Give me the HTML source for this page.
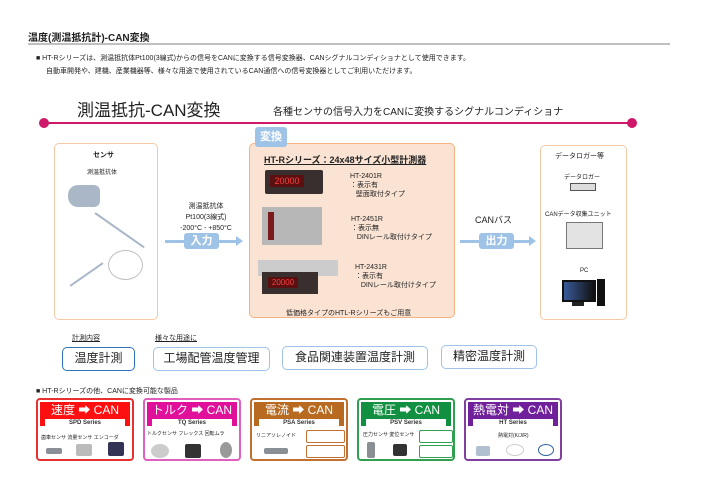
<!DOCTYPE html>
<html><head><meta charset="utf-8"><style>
*{margin:0;padding:0;box-sizing:border-box}
body{width:701px;height:496px;background:#fff;position:relative;overflow:hidden;font-family:"Liberation Sans","Noto Sans CJK JP",sans-serif;color:#222}
.a{position:absolute}
.t7{font-size:7px;white-space:nowrap}
.box{position:absolute;border:1px solid #f6c9a5;border-radius:5px;background:#fff}
.lab{position:absolute;background:#9ec3e6;color:#fff;font-weight:bold;border-radius:3px;text-align:center}
.pill{position:absolute;border:1.5px solid #9ec3e6;border-radius:5px;font-size:12px;text-align:center;line-height:21px;background:#fff}
.card{position:absolute;top:398px;width:98px;height:63px;border:2px solid;border-radius:4px;background:#fff}
.card .h{position:absolute;left:2px;top:2px;right:2px;height:24px;color:#fff;font-size:12px;text-align:center;line-height:17px;white-space:nowrap}
.card .s{position:absolute;left:5px;right:5px;top:17px;height:8px;background:#fff;color:#333;font-size:6px;font-weight:bold;line-height:8px;text-align:center}
.g{position:absolute;background:#8a8f96;border-radius:2px}
</style></head><body>
<div class="a" style="left:28px;top:29px;font-size:10px;font-weight:bold">温度(測温抵抗計)-CAN変換</div>
<div class="a" style="left:28px;top:43px;width:642px;height:2px;background:#c0c0c0"></div>
<div class="a t7" style="left:36px;top:53px">■ HT-Rシリーズは、測温抵抗体Pt100(3線式)からの信号をCANに変換する信号変換器、CANシグナルコンディショナとして使用できます。</div>
<div class="a t7" style="left:46px;top:66px">自動車開発や、建機、産業機器等、様々な用途で使用されているCAN通信への信号変換器としてご利用いただけます。</div>
<div class="a" style="left:77px;top:96px;font-size:17px;white-space:nowrap">測温抵抗-CAN変換</div>
<div class="a" style="left:273px;top:103px;font-size:10px;white-space:nowrap">各種センサの信号入力をCANに変換するシグナルコンディショナ</div>
<div class="a" style="left:48px;top:122px;width:584px;height:2px;background:#d0186b"></div>
<div class="a" style="left:39px;top:118px;width:10px;height:10px;border-radius:50%;background:#d0186b"></div>
<div class="a" style="left:627px;top:118px;width:10px;height:10px;border-radius:50%;background:#d0186b"></div>

<div class="box" style="left:54px;top:143px;width:104px;height:177px"></div>
<div class="a t7" style="left:93px;top:150px;font-weight:bold">センサ</div>
<div class="a t7" style="left:87px;top:167px;font-size:6px">測温抵抗体</div>
<div class="a" style="left:68px;top:185px;width:32px;height:22px;background:#a9b7c7;border-radius:10px 6px 6px 10px"></div>
<div class="a" style="left:95px;top:212px;width:60px;height:2px;background:#a9b7c7;transform:rotate(35deg);transform-origin:left"></div>
<div class="a" style="left:70px;top:285px;width:40px;height:1.5px;background:#a9b7c7;transform:rotate(-35deg);transform-origin:left"></div>
<div class="a" style="left:108px;top:250px;width:35px;height:30px;border:1.5px solid #c0c0c0;border-radius:50%"></div>

<div class="a t7" style="left:170px;top:201px;width:72px;text-align:center;line-height:11px">測温抵抗体<br>Pt100(3線式)<br>-200°C - +850°C</div>
<div class="a" style="left:165px;top:240px;width:72px;height:3px;background:#9ec3e6"></div>
<div class="a" style="left:236px;top:236px;border-left:7px solid #9ec3e6;border-top:5px solid transparent;border-bottom:5px solid transparent"></div>
<div class="lab" style="left:184px;top:233px;width:35px;height:16px;font-size:11px;line-height:16px">入力</div>

<div class="box" style="left:249px;top:143px;width:206px;height:175px;background:#fbe3d3;border-color:#f4b183"></div>
<div class="lab" style="left:255px;top:127px;width:32px;height:20px;font-size:11px;line-height:20px">変換</div>
<div class="a" style="left:264px;top:153px;font-size:9px;font-weight:bold;text-decoration:underline;white-space:nowrap">HT-Rシリーズ：24x48サイズ小型計測器</div>
<div class="a" style="left:265px;top:170px;width:58px;height:24px;background:#3a2f2f;border-radius:2px"></div>
<div class="a" style="left:270px;top:175px;width:34px;height:12px;background:#5a1010;color:#ff4040;font-size:9px;line-height:12px;text-align:center">20000</div>
<div class="a t7" style="left:350px;top:172px;line-height:9px">HT-2401R<br>：表示有<br>&nbsp;&nbsp;&nbsp;壁面取付タイプ</div>
<div class="a" style="left:262px;top:207px;width:60px;height:38px;background:#b7b7b7"></div>
<div class="a" style="left:268px;top:212px;width:6px;height:28px;background:#7a1a1a"></div>
<div class="a t7" style="left:351px;top:215px;line-height:9px">HT-2451R<br>：表示無<br>&nbsp;&nbsp;&nbsp;DINレール取付けタイプ</div>
<div class="a" style="left:258px;top:260px;width:80px;height:16px;background:#ccc"></div>
<div class="a" style="left:262px;top:272px;width:56px;height:22px;background:#3a2f2f"></div>
<div class="a" style="left:268px;top:277px;width:30px;height:11px;background:#5a1010;color:#ff4040;font-size:8px;line-height:11px;text-align:center">20000</div>
<div class="a t7" style="left:355px;top:263px;line-height:9px">HT-2431R<br>：表示有<br>&nbsp;&nbsp;&nbsp;DINレール取付けタイプ</div>
<div class="a t7" style="left:286px;top:308px">低価格タイプのHTL-Rシリーズもご用意</div>

<div class="a" style="left:475px;top:213px;font-size:9px">CANバス</div>
<div class="a" style="left:460px;top:240px;width:70px;height:3px;background:#9ec3e6"></div>
<div class="a" style="left:529px;top:236px;border-left:7px solid #9ec3e6;border-top:5px solid transparent;border-bottom:5px solid transparent"></div>
<div class="lab" style="left:479px;top:233px;width:35px;height:16px;font-size:11px;line-height:16px">出力</div>

<div class="box" style="left:540px;top:145px;width:87px;height:175px"></div>
<div class="a t7" style="left:555px;top:151px">データロガー等</div>
<div class="a t7" style="left:564px;top:172px;font-size:6px">データロガー</div>
<div class="a" style="left:570px;top:183px;width:26px;height:8px;border:1px solid #555;background:#ddd"></div>
<div class="a t7" style="left:545px;top:209px;font-size:6px">CANデータ収集ユニット</div>
<div class="a" style="left:566px;top:222px;width:37px;height:27px;border:1px solid #777;background:#e3e3e3"></div>
<div class="a t7" style="left:580px;top:268px;font-size:6px">PC</div>
<div class="a" style="left:562px;top:280px;width:34px;height:22px;border:2px solid #111;background:linear-gradient(90deg,#3a5a9a,#111)"></div>
<div class="a" style="left:597px;top:279px;width:8px;height:27px;background:#111"></div>
<div class="a" style="left:572px;top:302px;width:12px;height:4px;background:#222"></div>

<div class="a t7" style="left:72px;top:333px;text-decoration:underline">計測内容</div>
<div class="a t7" style="left:155px;top:333px;text-decoration:underline">様々な用途に</div>
<div class="pill" style="left:62px;top:347px;width:73px;height:24px;border-color:#2e75b6">温度計測</div>
<div class="pill" style="left:153px;top:347px;width:117px;height:24px">工場配管温度管理</div>
<div class="pill" style="left:282px;top:346px;width:146px;height:24px">食品関連装置温度計測</div>
<div class="pill" style="left:441px;top:345px;width:96px;height:24px">精密温度計測</div>

<div class="a t7" style="left:36px;top:386px">■ HT-Rシリーズの他、CANに変換可能な製品</div>
<div class="card" style="left:36px;border-color:#e83030"><div class="h" style="background:#ff1010">速度 ➡ CAN<div class="s">SPD Series</div></div><div class="a t7" style="left:3px;top:34px;font-size:5px">歯車センサ 流量センサ エンコーダ</div><div class="g" style="left:8px;top:48px;width:16px;height:6px"></div><div class="g" style="left:38px;top:44px;width:16px;height:12px;background:#bbb"></div><div class="g" style="left:70px;top:42px;width:16px;height:14px;background:#335"></div></div>
<div class="card" style="left:143px;border-color:#e060c0"><div class="h" style="background:#e0109a">トルク ➡ CAN<div class="s">TQ Series</div></div><div class="a t7" style="left:2px;top:30px;font-size:5px">トルクセンサ フレックス 回転ムラ</div><div class="g" style="left:6px;top:44px;width:18px;height:14px;background:#ccc;border-radius:50%"></div><div class="g" style="left:40px;top:44px;width:16px;height:14px;background:#333"></div><div class="g" style="left:75px;top:42px;width:12px;height:16px;background:#999;border-radius:50%"></div></div>
<div class="card" style="left:250px;border-color:#c07030"><div class="h" style="background:#b86a20">電流 ➡ CAN<div class="s">PSA Series</div></div><div class="a t7" style="left:4px;top:32px;font-size:5px">リニアソレノイド</div><div class="g" style="left:12px;top:48px;width:24px;height:6px"></div><div class="a" style="left:54px;top:30px;width:39px;height:13px;border:1px solid #c07030;border-radius:2px"></div><div class="a" style="left:54px;top:45px;width:39px;height:13px;border:1px solid #c07030;border-radius:2px"></div></div>
<div class="card" style="left:357px;border-color:#30a050"><div class="h" style="background:#109040">電圧 ➡ CAN<div class="s">PSV Series</div></div><div class="a t7" style="left:4px;top:31px;font-size:5px">圧力センサ 変位センサ</div><div class="g" style="left:8px;top:42px;width:8px;height:16px"></div><div class="g" style="left:34px;top:44px;width:14px;height:12px;background:#333"></div><div class="a" style="left:60px;top:30px;width:34px;height:13px;border:1px solid #30a050;border-radius:2px"></div><div class="a" style="left:60px;top:45px;width:34px;height:13px;border:1px solid #30a050;border-radius:2px"></div></div>
<div class="card" style="left:464px;border-color:#8040a0"><div class="h" style="background:#70209a">熱電対 ➡ CAN<div class="s">HT Series</div></div><div class="a t7" style="left:32px;top:32px;font-size:5px">熱電対(K/J/R)</div><div class="g" style="left:10px;top:46px;width:14px;height:10px;background:#b0c0d0"></div><div class="a" style="left:40px;top:44px;width:18px;height:12px;border:1px solid #ccc;border-radius:50%"></div><div class="a" style="left:72px;top:44px;width:16px;height:12px;border:1.5px solid #3060a0;border-radius:50%"></div></div>
</body></html>
